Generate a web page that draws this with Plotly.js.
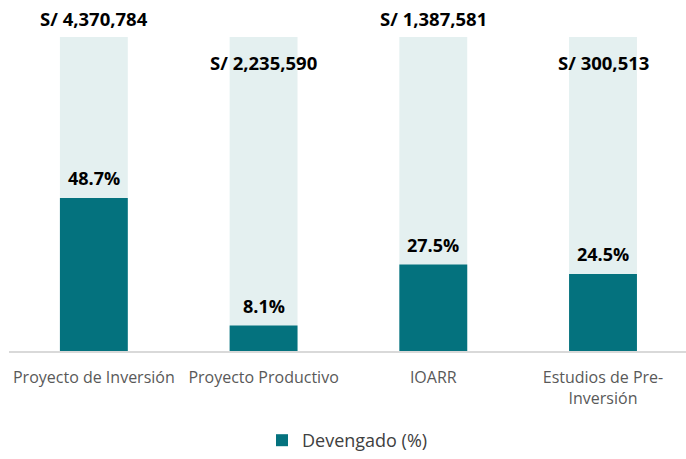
<!DOCTYPE html>
<html>
<head>
<meta charset="utf-8">
<script src="https://cdn.plot.ly/plotly-3.0.1.min.js"></script>
<style>html,body{margin:0;padding:0;background:#fff;}#chart{width:686px;height:459px;}</style>
</head>
<body>
<div id="chart"></div>
<script>
const categories = ["Proyecto de Inversión", "Proyecto Productivo", "IOARR", "Estudios de Pre-<br>Inversión"];
const montos = [4370784, 2235590, 1387581, 300513];
const devengadoPct = [48.7, 8.1, 27.5, 24.5];
const totalPct = [100, 100, 100, 100];

const xIdx = categories.map((c, i) => i);
const fmtMonto = v => "S/ " + v.toLocaleString("en-US");

const traceBg = {
  type: "bar", x: xIdx, y: totalPct, width: 0.4,
  marker: {color: "#E4F0F0"}, showlegend: false, hoverinfo: "skip"
};
const traceDev = {
  type: "bar", x: xIdx, y: devengadoPct, width: 0.4, name: "Devengado (%)",
  marker: {color: "#04727E"}
};

const montoFont = {family: "Open Sans, sans-serif", size: 18.5, color: "#000000", weight: 700};
const pctFont = {family: "Open Sans, sans-serif", size: 18, color: "#000000", weight: 700};
const annotations = [];
montos.forEach((m, i) => {
  annotations.push({
    x: i, y: i % 2 === 0 ? 106 : 92, xref: "x", yref: "y",
    text: "<b>" + fmtMonto(m) + "</b>", showarrow: false,
    font: montoFont, xanchor: "center", yanchor: "middle"
  });
});
devengadoPct.forEach((p, i) => {
  annotations.push({
    x: i, y: p, xref: "x", yref: "y",
    text: "<b>" + p.toFixed(1) + "%</b>", showarrow: false,
    font: pctFont, xanchor: "center", yanchor: "bottom", yshift: 6
  });
});

const layout = {
  width: 686, height: 459,
  margin: {l: 9, r: 0, t: 0, b: 107},
  paper_bgcolor: "#ffffff", plot_bgcolor: "#ffffff",
  barmode: "overlay",
  xaxis: {
    range: [-0.5, 3.489], tickmode: "array", tickvals: xIdx, ticktext: categories,
    showline: true, linecolor: "#D9D9D9", linewidth: 1.5, showgrid: false, zeroline: false,
    ticks: "outside", ticklen: 11, tickcolor: "rgba(0,0,0,0)",
    tickfont: {family: "Open Sans, sans-serif", size: 16, color: "#595959"}
  },
  yaxis: {range: [0, 111.75], visible: false, showgrid: false, zeroline: false},
  showlegend: true,
  legend: {
    orientation: "h", x: 0.5, xanchor: "center", y: -0.255, yanchor: "middle",
    font: {family: "Open Sans, sans-serif", size: 18, color: "#404040"}
  },
  annotations: annotations
};

Plotly.newPlot("chart", [traceBg, traceDev], layout, {displayModeBar: false, staticPlot: true});
</script>
</body>
</html>
